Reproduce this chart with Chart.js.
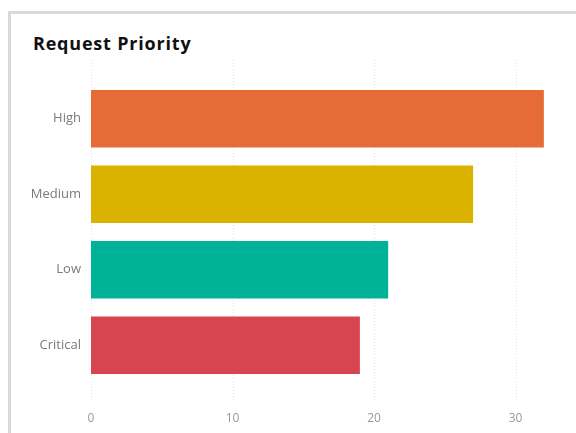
<!DOCTYPE html>
<html>
<head>
<meta charset="utf-8">
<script src="https://cdn.jsdelivr.net/npm/chart.js@4/dist/chart.umd.min.js"></script>
<style>
  html, body { margin: 0; padding: 0; background: #fff; }
  #wrap { position: relative; width: 576px; height: 433px; overflow: hidden; }
  #card {
    position: absolute; left: 8px; top: 11px; right: -4px; bottom: -4px;
    border-top: 3px solid #d9d9d9; border-left: 3px solid #d9d9d9;
  }
  #title {
    position: absolute; left: 33px; top: 34px;
    font-family: "Open Sans", sans-serif; font-weight: 700; font-size: 18px;
    letter-spacing: 0.8px; color: #111; line-height: 18px; white-space: nowrap;
  }
  #chart { position: absolute; left: 0; top: 0; }
</style>
</head>
<body>
<div id="wrap">
  <div id="card"></div>
  <div id="title">Request Priority</div>
  <canvas id="chart" width="576" height="433"></canvas>
</div>
<script>
const categories = ["High", "Medium", "Low", "Critical"];
const requestCounts = [32, 27, 21, 19];
const barColors = ["#E66C37", "#D9B300", "#00B398", "#D64550"];
const xTicks = [0, 10, 20, 30];

// Dotted vertical guides at each x tick, running a little past the plot area
const dottedGrid = {
  id: "dottedGrid",
  beforeDatasetsDraw(chart) {
    const ctx = chart.ctx;
    const x = chart.scales.x;
    const top = chart.chartArea.top - 21;
    const bottom = chart.chartArea.bottom + 18;
    ctx.save();
    ctx.strokeStyle = "#e3e3e3";
    ctx.lineWidth = 1;
    ctx.setLineDash([1, 2]);
    x.ticks.forEach(t => {
      const px = Math.round(x.getPixelForValue(t.value)) + 0.5;
      ctx.beginPath();
      ctx.moveTo(px, top);
      ctx.lineTo(px, bottom);
      ctx.stroke();
    });
    ctx.restore();
  }
};

new Chart(document.getElementById("chart"), {
  type: "bar",
  data: {
    labels: categories,
    datasets: [{
      data: requestCounts,
      backgroundColor: barColors,
      borderWidth: 0,
      barPercentage: 0.76,
      categoryPercentage: 1
    }]
  },
  options: {
    indexAxis: "y",
    responsive: false,
    animation: false,
    layout: { padding: { top: 81, right: 18, bottom: 9, left: 0 } },
    plugins: { legend: { display: false }, tooltip: { enabled: false } },
    scales: {
      x: {
        min: 0, max: 33,
        afterBuildTicks: s => { s.ticks = xTicks.map(v => ({ value: v })); },
        afterFit: s => { s.height = 41; },
        grid: { display: false, drawTicks: false },
        border: { display: false },
        ticks: {
          padding: 28,
          color: "#999999",
          font: { family: "Open Sans", size: 12 }
        }
      },
      y: {
        afterFit: s => { s.width = 91; },
        grid: { display: false, drawTicks: false },
        border: { display: false },
        ticks: {
          padding: 10,
          color: "#7a7a7a",
          font: { family: "Open Sans", size: 13 }
        }
      }
    }
  },
  plugins: [dottedGrid]
});
</script>
</body>
</html>
